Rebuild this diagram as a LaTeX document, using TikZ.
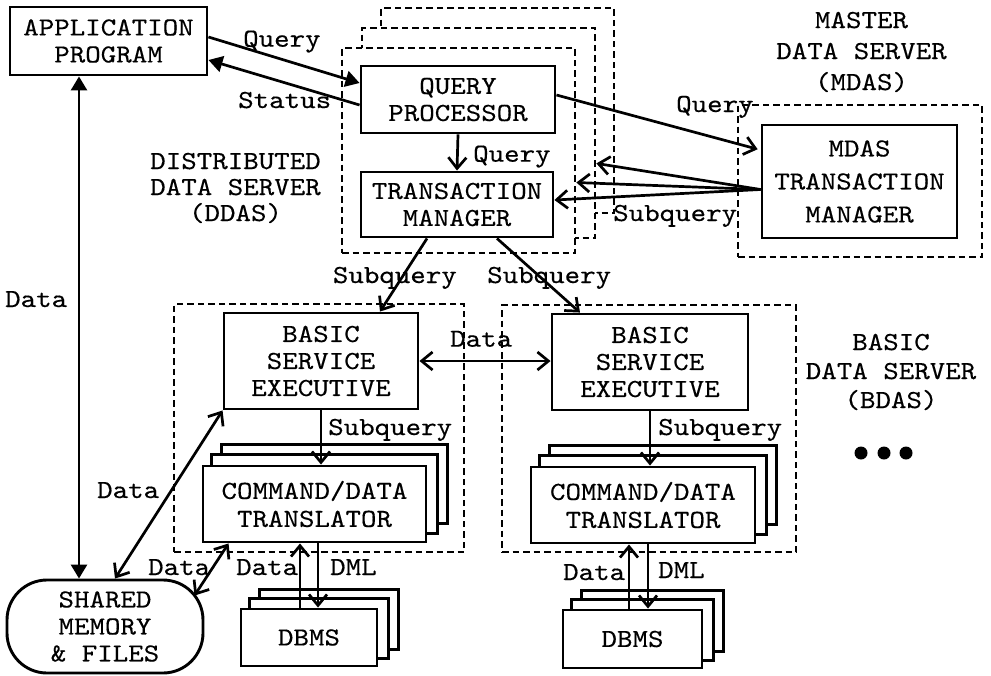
\documentclass[tikz,border=0pt]{standalone}
\usepackage{fontspec}
% slab-serif typewriter face, widened to a Courier-like pitch
\newfontfamily\monofam[Extension=.otf, FakeStretch=1.135, FakeBold=0.3]{lmmono10-regular}
\usetikzlibrary{arrows.meta,calc}
\pgfdeclarelayer{base}
\pgfdeclarelayer{behind}
\pgfsetlayers{base,behind,main}
% monospaced text with a given line spacing
\newcommand\mfont[1]{\monofam\fontsize{26}{#1}\selectfont}

\begin{document}
\begin{tikzpicture}[x=1pt,y=-1pt,
  box/.style={draw, line width=2.9pt, fill=white, inner sep=0pt, align=center, font=\mfont{27}},
  dbox/.style={draw, line width=2.8pt, dash pattern=on 6.5pt off 4pt, inner sep=0pt},
  backbox/.style={draw, line width=2.9pt, fill=white},
  lbl/.style={font=\mfont{26}, inner sep=0pt, anchor=base west},
  grp/.style={font=\mfont{#1}, inner sep=0pt, align=center},
  link/.style={line width=2.7pt},
  arr/.style={link, -{Straight Barb[length=11pt,width=18pt]}},
  arrs/.style={link, {Straight Barb[length=11pt,width=18pt]}-{Straight Barb[length=11pt,width=18pt]}},
  farr/.style={link, -{Triangle[length=14pt,width=16pt]}},
  farrs/.style={link, {Triangle[length=14pt,width=16pt]}-{Triangle[length=14pt,width=16pt]}}]

\begin{pgfonlayer}{base}
  \fill[white] (0,0) rectangle (991,675);
\end{pgfonlayer}
\useasboundingbox (0,0) rectangle (991,675);

% server frames (dashed); the distributed server copies overlap, so they are filled
\node[dbox, fill=white, minimum width=233pt, minimum height=205pt] (ddb) at (497.5,110.5) {};
\node[dbox, fill=white, minimum width=233pt, minimum height=210pt] (ddm) at (478.5,133) {};
\node[dbox, fill=white, minimum width=233pt, minimum height=205pt] (ddf) at (458.5,150.5) {};
\node[dbox, minimum width=244pt, minimum height=152pt] (mdas) at (860,181) {};
\node[dbox, minimum width=290pt, minimum height=248pt] (bdas1) at (319,428) {};
\node[dbox, minimum width=294pt, minimum height=247pt] (bdas2) at (649,428.5) {};

% components
\node[box, minimum width=197pt, minimum height=68pt] (app) at (108.5,41) {APPLICATION\\PROGRAM};
\node[box, minimum width=194pt, minimum height=67pt] (qp) at (458,99.5) {QUERY\\PROCESSOR};
\node[box, minimum width=192pt, minimum height=65pt] (tm) at (457,204.5) {TRANSACTION\\MANAGER};
\node[box, minimum width=195pt, minimum height=113pt, font=\mfont{33}] (mtm) at (859.5,181.5) {MDAS\\TRANSACTION\\MANAGER};
\node[box, minimum width=194pt, minimum height=96pt] (bse1) at (321,361) {BASIC\\SERVICE\\EXECUTIVE};
\node[box, minimum width=196pt, minimum height=96pt] (bse2) at (650,362) {BASIC\\SERVICE\\EXECUTIVE};
\node[box, minimum width=223pt, minimum height=76pt, font=\mfont{28}] (trl1) at (314.5,504) {COMMAND/DATA\\TRANSLATOR};
\node[box, minimum width=224pt, minimum height=76pt, font=\mfont{28}] (trl2) at (643,505) {COMMAND/DATA\\TRANSLATOR};
\node[box, minimum width=136pt, minimum height=57pt] (db1) at (309,637.5) {DBMS};
\node[box, minimum width=139pt, minimum height=58pt] (db2) at (632.5,639) {DBMS};
\node[box, rounded corners=40pt, minimum width=196pt, minimum height=93pt] (shm) at (105,626.5) {SHARED\\MEMORY\\\& FILES};

% stacked copies behind translators and DBMSs
\begin{pgfonlayer}{behind}
  \foreach \n in {trl1,trl2} {
    \draw[backbox] ([shift={(20,-20)}]\n.south west) rectangle ([shift={(20,-20)}]\n.north east);
    \draw[backbox] ([shift={(10,-10)}]\n.south west) rectangle ([shift={(10,-10)}]\n.north east);
  }
  \foreach \n in {db1,db2} {
    \draw[backbox] ([shift={(20,-18)}]\n.south west) rectangle ([shift={(20,-18)}]\n.north east);
    \draw[backbox] ([shift={(10,-9)}]\n.south west) rectangle ([shift={(10,-9)}]\n.north east);
  }
\end{pgfonlayer}

% group captions
\node[grp=31] (mcap) at (861.5,52) {MASTER\\DATA SERVER\\(MDAS)};
\node[grp=26] (dcap) at (235.5,188) {DISTRIBUTED\\DATA SERVER\\(DDAS)};
\node[grp=29] (bcap) at (891,372) {BASIC\\DATA SERVER\\(BDAS)};
\fill (861,453) circle (6.5) (884,453) circle (6.5) (906,453) circle (6.5);

% connectors
\draw[farr] ([yshift=4pt]app.east) -- ([yshift=16.5pt]qp.west);
\draw[farr] ([yshift=-5.5pt]qp.west) -- ([yshift=-19pt]app.east);
\draw[farrs] ([xshift=-29.5pt]app.south) -- ([xshift=-29.5pt]app.south |- shm.north);
\draw[arr] (qp.south) -- (tm.north);
\draw[arr, shorten >=3pt] ([yshift=4.5pt]qp.east) -- ([yshift=31.5pt]mtm.west);
\coordinate (mq) at ([yshift=-8pt]mtm.west);
\draw[arr] (mq) -- ($(ddm.north east)!0.643!(ddm.south east)$);
\draw[arr] (mq) -- ($(ddf.north east)!0.654!(ddf.south east)$);
\draw[arr] (mq) -- ([yshift=4.5pt]tm.east);
\draw[arr] ([xshift=-30pt]tm.south) -- ([xshift=59pt]bse1.north);
\draw[arr] ([xshift=40pt]tm.south) -- ([xshift=-70pt]bse2.north);
\draw[arrs] (bse1.east) -- (bse1.east -| bse2.west);
\draw[arr] (bse1.south) -- (bse1.south |- trl1.north);
\draw[arr] (bse2.south) -- (bse2.south |- trl2.north);
\draw[arrs] ([xshift=10pt]shm.north) -- (bse1.south west);
\draw[arrs] ($(shm.north east)+(-10,17)$) -- ([xshift=27pt]trl1.south west);
\draw[arr] ([xshift=-9pt]db1.north) -- ([xshift=-9pt]db1.north |- trl1.south);
\draw[arr] ([xshift=9pt]db1.north |- trl1.south) -- ([xshift=9pt]db1.north);
\draw[arr] ([xshift=-3.5pt]db2.north) -- ([xshift=-3.5pt]db2.north |- trl2.south);
\draw[arr] ([xshift=15.5pt]db2.north |- trl2.south) -- ([xshift=15.5pt]db2.north);

% connector labels
\node[lbl] (l1) at (243,46.7) {Query};
\node[lbl] (l2) at (238,108) {Status};
\node[lbl] (l3) at (473,161.7) {Query};
\node[lbl] (l4) at (676,112) {Query};
\node[lbl] (l5) at (613,221) {Subquery};
\node[lbl] (l6) at (332.7,283) {Subquery};
\node[lbl] (l7) at (487,283) {Subquery};
\node[lbl] (l8) at (450,346.7) {Data};
\node[lbl] (l9) at (328,435) {Subquery};
\node[lbl] (l10) at (658,435) {Subquery};
\node[lbl] (l11) at (5,307) {Data};
\node[lbl] (l12) at (97,498) {Data};
\node[lbl] (l13) at (148,575) {Data};
\node[lbl] (l14) at (236,575) {Data};
\node[lbl] (l15) at (330,575) {DML};
\node[lbl] (l16) at (563,580) {Data};
\node[lbl] (l17) at (658,578) {DML};
\end{tikzpicture}
\end{document}
